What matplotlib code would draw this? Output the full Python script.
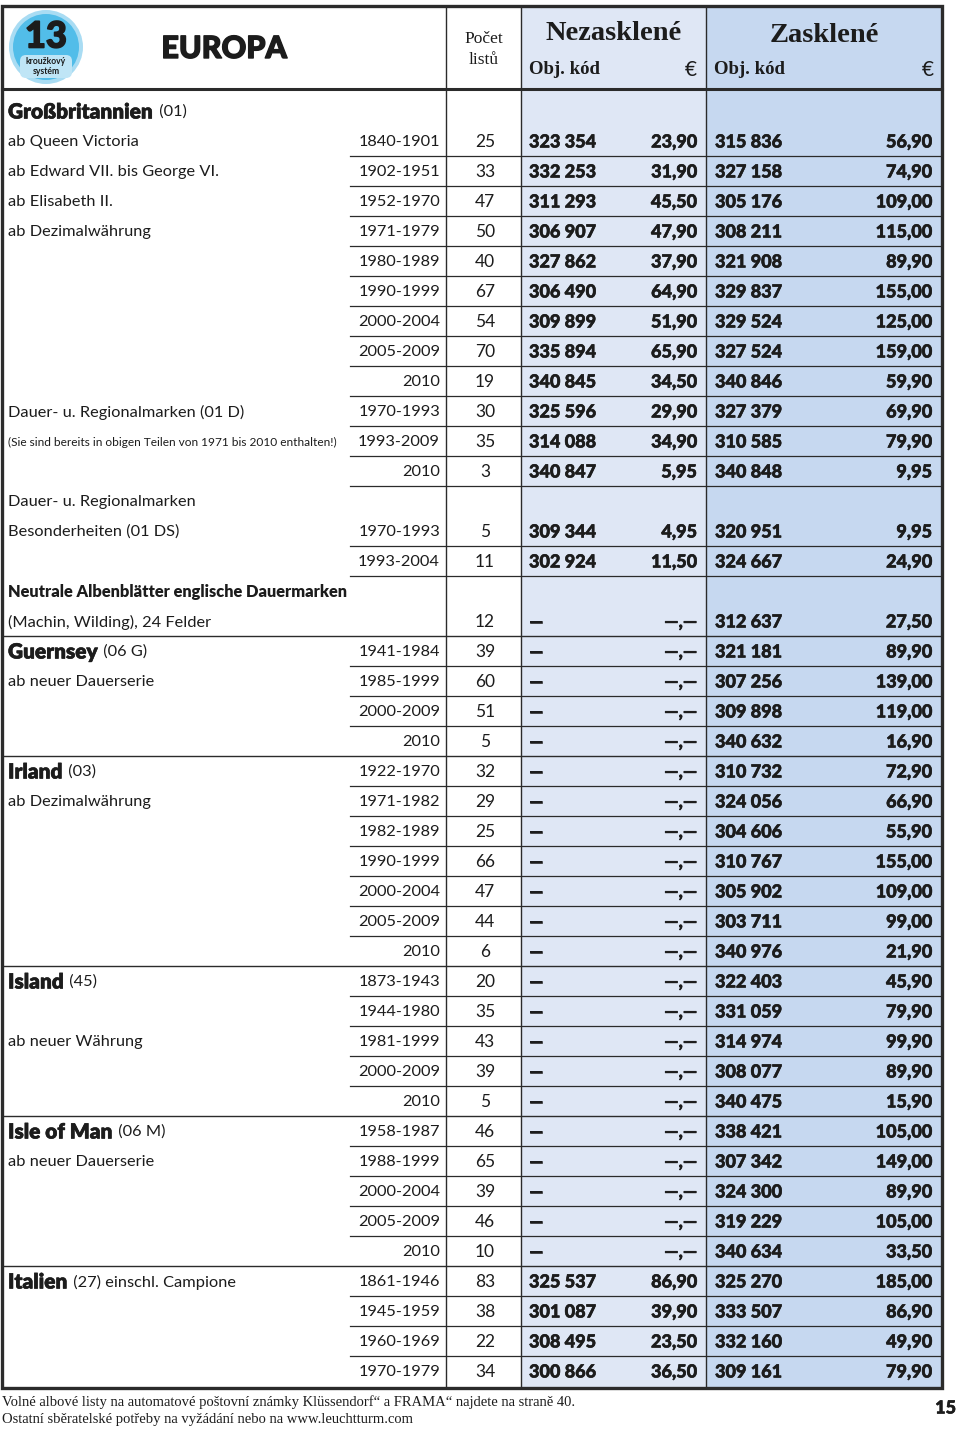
import matplotlib
matplotlib.use("Agg")
import matplotlib.pyplot as plt
import matplotlib.patheffects as pe
from matplotlib.patches import Rectangle, Circle, FancyBboxPatch

# =========================
# DATA
# =========================
# left label: (bold part, regular part)
labels = [
    ("Großbritannien", " (01)"),
    ("", "ab Queen Victoria"),
    ("", "ab Edward VII. bis George VI."),
    ("", "ab Elisabeth II."),
    ("", "ab Dezimalwährung"),
    ("", ""), ("", ""), ("", ""), ("", ""), ("", ""),
    ("", "Dauer- u. Regionalmarken (01 D)"),
    ("", "(Sie sind bereits in obigen Teilen von 1971 bis 2010 enthalten!)"),
    ("", ""),
    ("", "Dauer- u. Regionalmarken"),
    ("", "Besonderheiten (01 DS)"),
    ("", ""),
    ("Neutrale Albenblätter englische Dauermarken", ""),
    ("", "(Machin, Wilding), 24 Felder"),
    ("Guernsey", " (06 G)"),
    ("", "ab neuer Dauerserie"),
    ("", ""), ("", ""),
    ("Irland", " (03)"),
    ("", "ab Dezimalwährung"),
    ("", ""), ("", ""), ("", ""), ("", ""), ("", ""),
    ("Island", " (45)"),
    ("", ""),
    ("", "ab neuer Währung"),
    ("", ""), ("", ""),
    ("Isle of Man", " (06 M)"),
    ("", "ab neuer Dauerserie"),
    ("", ""), ("", ""), ("", ""),
    ("Italien", " (27) einschl. Campione"),
    ("", ""), ("", ""), ("", ""),
]

years = ["", "1840-1901", "1902-1951", "1952-1970", "1971-1979", "1980-1989",
         "1990-1999", "2000-2004", "2005-2009", "2010", "1970-1993", "1993-2009",
         "2010", "", "1970-1993", "1993-2004", "", "", "1941-1984", "1985-1999",
         "2000-2009", "2010", "1922-1970", "1971-1982", "1982-1989", "1990-1999",
         "2000-2004", "2005-2009", "2010", "1873-1943", "1944-1980", "1981-1999",
         "2000-2009", "2010", "1958-1987", "1988-1999", "2000-2004", "2005-2009",
         "2010", "1861-1946", "1945-1959", "1960-1969", "1970-1979"]

counts = ["", "25", "33", "47", "50", "40", "67", "54", "70", "19", "30", "35",
          "3", "", "5", "11", "", "12", "39", "60", "51", "5", "32", "29", "25",
          "66", "47", "44", "6", "20", "35", "43", "39", "5", "46", "65", "39",
          "46", "10", "83", "38", "22", "34"]

D = "—"
DP = "—,—"
n_codes = ["", "323 354", "332 253", "311 293", "306 907", "327 862", "306 490",
           "309 899", "335 894", "340 845", "325 596", "314 088", "340 847", "",
           "309 344", "302 924", "", D, D, D, D, D, D, D, D, D, D, D, D, D, D, D,
           D, D, D, D, D, D, D, "325 537", "301 087", "308 495", "300 866"]
n_prices = ["", "23,90", "31,90", "45,50", "47,90", "37,90", "64,90", "51,90",
            "65,90", "34,50", "29,90", "34,90", "5,95", "", "4,95", "11,50", "",
            DP, DP, DP, DP, DP, DP, DP, DP, DP, DP, DP, DP, DP, DP, DP, DP, DP,
            DP, DP, DP, DP, DP, "86,90", "39,90", "23,50", "36,50"]
z_codes = ["", "315 836", "327 158", "305 176", "308 211", "321 908", "329 837",
           "329 524", "327 524", "340 846", "327 379", "310 585", "340 848", "",
           "320 951", "324 667", "", "312 637", "321 181", "307 256", "309 898",
           "340 632", "310 732", "324 056", "304 606", "310 767", "305 902",
           "303 711", "340 976", "322 403", "331 059", "314 974", "308 077",
           "340 475", "338 421", "307 342", "324 300", "319 229", "340 634",
           "325 270", "333 507", "332 160", "309 161"]
z_prices = ["", "56,90", "74,90", "109,00", "115,00", "89,90", "155,00", "125,00",
            "159,00", "59,90", "69,90", "79,90", "9,95", "", "9,95", "24,90", "",
            "27,50", "89,90", "139,00", "119,00", "16,90", "72,90", "66,90",
            "55,90", "155,00", "109,00", "99,00", "21,90", "45,90", "79,90",
            "99,90", "89,90", "15,90", "105,00", "149,00", "89,90", "105,00",
            "33,50", "185,00", "86,90", "49,90", "79,90"]

# rows without a rule below them (sub-headings) and rows that start a country
no_rule_below = {0, 13, 16}
country_start = {18, 22, 29, 34, 39}
small_note_rows = {11}

footer = ["Volné albové listy na automatové poštovní známky Klüssendorf“ a FRAMA“ najdete na straně 40.",
          "Ostatní sběratelské potřeby na vyžádání nebo na www.leuchtturm.com"]

# =========================
# LAYOUT
# =========================
W, H = 960, 1431
LEFT, RIGHT, TOP = 2, 942, 6
HEAD_BOT = 89
ROW0, ROW_H = 96, 30
X_YEAR, X_CNT, X_NEZ, X_ZAS = 350, 446, 521, 706
BOTTOM = ROW0 + ROW_H * len(years) + 2

LINE = "#2b2b2b"
INK = "#1c1c1c"
NEZ_BG = "#dfe7f5"
ZAS_BG = "#c6d8f0"

SANS = ["Lato", "DejaVu Sans"]
SERIF = ["Liberation Serif", "DejaVu Serif"]
HEAVY = [pe.withStroke(linewidth=0.4, foreground=INK)]

fig = plt.figure(figsize=(W / 100, H / 100), dpi=100)
ax = fig.add_axes([0, 0, 1, 1])
ax.set_xlim(0, W)
ax.set_ylim(H, 0)
ax.axis("off")
r = fig.canvas.get_renderer()

# column backgrounds
ax.add_patch(Rectangle((X_NEZ, TOP), X_ZAS - X_NEZ, BOTTOM - TOP, fc=NEZ_BG, ec="none", zorder=0))
ax.add_patch(Rectangle((X_ZAS, TOP), RIGHT - X_ZAS, BOTTOM - TOP, fc=ZAS_BG, ec="none", zorder=0))

# vertical rules
for x in (X_CNT, X_NEZ, X_ZAS):
    ax.plot([x, x], [TOP, BOTTOM], color=LINE, lw=1.0, zorder=2)

# header bottom
ax.plot([LEFT, RIGHT], [HEAD_BOT, HEAD_BOT], color=LINE, lw=2.2, zorder=3)

# outer frame
ax.add_patch(Rectangle((LEFT, TOP), RIGHT - LEFT, BOTTOM - TOP, fc="none", ec=LINE, lw=2.4, zorder=4))

# =========================
# HEADER
# =========================
ax.add_patch(Circle((46, 47), 37, fc="#a9dcf3", ec="none", zorder=3))
ax.add_patch(Circle((46, 47), 33, fc="#52bde9", ec="none", zorder=3))
ax.add_patch(FancyBboxPatch((21, 56), 50, 21, boxstyle="round,pad=1,rounding_size=6",
                            fc="#bfe5f6", ec="none", zorder=3))
ax.text(46, 37, "13", family=SANS, weight="black", size=26, ha="center", va="center",
        color=INK, path_effects=[pe.withStroke(linewidth=1.2, foreground=INK)], zorder=5)
ax.text(46, 61.5, "kroužkový", family=SANS, weight="bold", size=6.2, ha="center", va="center", color=INK, zorder=5)
ax.text(46, 72, "systém", family=SANS, weight="bold", size=6.2, ha="center", va="center", color=INK, zorder=5)
ax.text(224, 49, "EUROPA", family=SANS, weight="black", size=22, ha="center", va="center",
        color=INK, path_effects=[pe.withStroke(linewidth=1.0, foreground=INK)], zorder=5)

ax.text(484, 39, "Počet", family=SERIF, size=12.5, ha="center", va="center", color=INK, zorder=5)
ax.text(484, 60, "listů", family=SERIF, size=12.5, ha="center", va="center", color=INK, zorder=5)

ax.text(614, 33, "Nezasklené", family=SERIF, weight="bold", size=20.5, ha="center", va="center", color=INK, zorder=5)
ax.text(824, 36, "Zasklené", family=SERIF, weight="bold", size=20.5, ha="center", va="center", color=INK, zorder=5)
for x0, x1 in ((529, 697), (714, 934)):
    ax.text(x0, 70, "Obj. kód", family=SERIF, weight="bold", size=13.5, ha="left", va="center", color=INK, zorder=5)
    ax.text(x1, 70, "€", family=SANS, size=15, ha="right", va="center", color=INK, zorder=5)

# =========================
# ROWS
# =========================
for i in range(len(years)):
    top = ROW0 + ROW_H * i
    yc = top + ROW_H / 2 + 1
    bot = top + ROW_H

    if i in country_start:
        ax.plot([LEFT, RIGHT], [top, top], color=LINE, lw=1.0, zorder=2)
    nxt = i + 1
    if i not in no_rule_below and nxt < len(years) and nxt not in country_start:
        ax.plot([X_YEAR, RIGHT], [bot, bot], color=LINE, lw=0.9, zorder=2)

    bold, reg = labels[i]
    x = 8
    if bold:
        small = i == 16
        t = ax.text(x, yc, bold, family=SANS, weight="heavy", color=INK,
                    size=11.8 if small else 15, ha="left", va="center",
                    path_effects=None if small else HEAVY, zorder=5)
        x += t.get_window_extent(r).width + 1
    if reg:
        ax.text(x, yc, reg, family=SANS, size=8.6 if i in small_note_rows else 11.8,
                ha="left", va="center", color=INK, zorder=5)

    ax.text(440, yc, years[i], family=SANS, size=11.8, ha="right", va="center", color=INK, zorder=5)
    ax.text(485, yc, counts[i], family=SANS, size=12.5, ha="center", va="center", color=INK, zorder=5)
    for xx, val, ha in ((529, n_codes[i], "left"), (697, n_prices[i], "right"),
                        (715, z_codes[i], "left"), (932, z_prices[i], "right")):
        ax.text(xx, yc, val, family=SANS, weight="black", size=13, ha=ha, va="center",
                color=INK, path_effects=HEAVY, zorder=5)

# =========================
# FOOTER
# =========================
ax.text(2, 1402, footer[0], family=SERIF, size=10.5, ha="left", va="center", color=INK)
ax.text(2, 1420, footer[1], family=SERIF, size=10.5, ha="left", va="center", color=INK)
ax.text(956, 1408, "15", family=SANS, weight="black", size=13, ha="right", va="center",
        color=INK, path_effects=HEAVY)

fig.savefig("out.png", dpi=100)
